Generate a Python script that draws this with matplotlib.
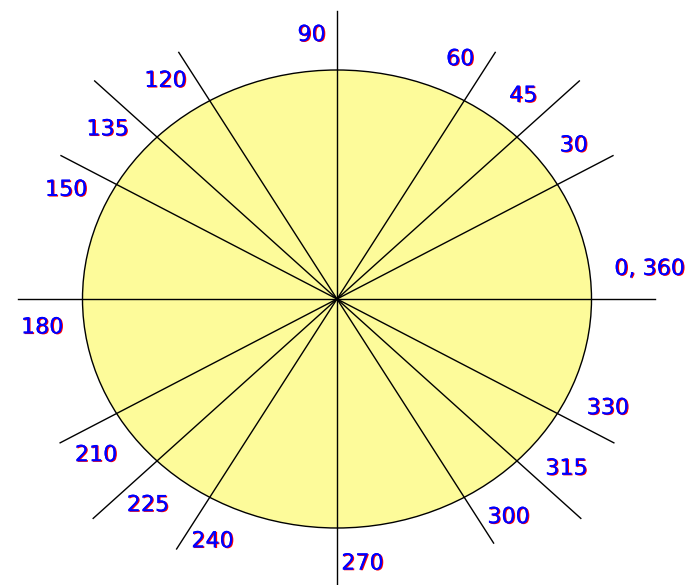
import numpy as np
import matplotlib
matplotlib.use("Agg")
from matplotlib import pyplot as plt
from matplotlib.patches import Ellipse
import matplotlib.patheffects as pe

angles = [0, 30, 45, 60, 90, 120, 135, 150, 180, 210, 225, 240, 270, 300, 315, 330]
labels = ["0, 360", "30", "45", "60", "90", "120", "135", "150",
          "180", "210", "225", "240", "270", "300", "315", "330"]
spoke_len = [318, 311, 326, 293, 288, 293, 326, 311,
             319, 312, 328, 297, 287, 290, 328, 312]

cx, cy = 337, 299
a, b = 254.5, 229


def plot_wheel(name):
    fig = plt.figure(figsize=(6.98, 5.85), dpi=100)
    ax = fig.add_axes([0, 0, 1, 1])
    ax.set_xlim(0, 698)
    ax.set_ylim(585, 0)
    ax.axis("off")

    ax.add_patch(Ellipse((cx, cy), 2 * a, 2 * b, facecolor="#fdfb9a",
                         edgecolor="black", lw=1.0, zorder=1))

    shadow = [pe.withSimplePatchShadow(offset=(0.8, -0.5), shadow_rgbFace="red",
                                       alpha=1.0), pe.Normal()]
    k = b / a
    for ang, lab, L in zip(angles, labels, spoke_len):
        t = np.radians(ang)
        d = np.array([np.cos(t), k * np.sin(t)])
        d = d / np.hypot(*d)
        ax.plot([cx, cx + L * d[0]], [cy, cy - L * d[1]], color="black",
                lw=1.0, zorder=2)
        # label sits a bit counter-clockwise from the spoke, outside the ellipse
        phi = np.arctan2(d[1], d[0]) + np.radians(5.5)
        re = 1 / np.sqrt(np.cos(phi) ** 2 / a ** 2 + np.sin(phi) ** 2 / b ** 2)
        r = re + 36 + 6 * (len(lab) - 2) * abs(np.cos(phi))
        ax.text(cx + r * np.cos(phi), cy - r * np.sin(phi), lab, color="blue",
                fontsize=16, ha="center", va="center", zorder=3,
                path_effects=shadow)

    fig.savefig(name)


plot_wheel("out.png")
